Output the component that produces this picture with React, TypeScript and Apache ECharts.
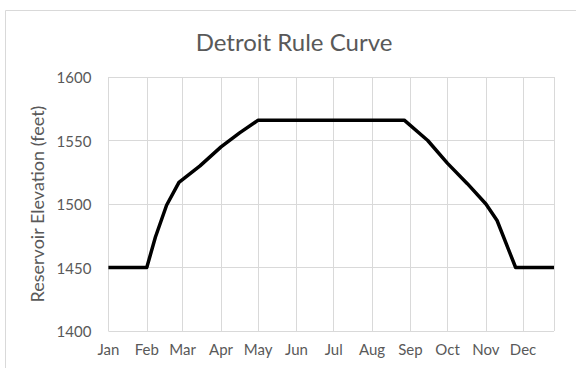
import React, { useEffect, useRef } from "react";
import * as echarts from "echarts";

// Day-of-year (2020, leap year; 0 = Jan 1) and rule-curve elevation in feet
const dayOfYear = [0, 31, 38, 47, 57, 74, 91, 106, 121, 239, 258, 274, 290, 305, 314, 329, 360];
const elevationFeet = [1450, 1450, 1474, 1499, 1517, 1530, 1545, 1556, 1566, 1566, 1550, 1532, 1516, 1500, 1487, 1450, 1450];

// Month labels and the day each month starts on
const monthLabels = ["Jan", "Feb", "Mar", "Apr", "May", "Jun", "Jul", "Aug", "Sep", "Oct", "Nov", "Dec"];
const monthStartDays = [0, 31, 60, 91, 121, 152, 182, 213, 244, 274, 305, 335];
const lastDay = 360;

const yTicks = { min: 1400, max: 1600, step: 50 };

const FONT = "Lato, 'Noto Sans', sans-serif";
const TEXT = "#595959";
const GRID = "#d9d9d9";

export default function App() {
  const ref = useRef<HTMLDivElement>(null);

  useEffect(() => {
    if (!ref.current) return;
    const chart = echarts.init(ref.current, undefined, { renderer: "svg" });
    const points = dayOfYear.map((d, i) => [d, elevationFeet[i]]);

    chart.setOption({
      animation: false,
      backgroundColor: "#ffffff",
      textStyle: { fontFamily: FONT },
      graphic: [
        {
          type: "rect",
          silent: true,
          shape: { x: 5.5, y: 10.5, width: 620, height: 420 },
          style: { fill: "none", stroke: GRID, lineWidth: 1 },
        },
        {
          type: "text",
          x: 294,
          y: 41,
          style: {
            text: "Detroit Rule Curve",
            fontFamily: FONT,
            fontSize: 24,
            fill: TEXT,
            align: "center",
            verticalAlign: "middle",
          },
        },
      ],
      grid: { left: 108.4, right: 22, top: 77, bottom: 37 },
      xAxis: {
        type: "value",
        min: 0,
        max: lastDay,
        axisLine: { show: false },
        axisTick: { show: false, customValues: [...monthStartDays, lastDay] },
        splitLine: { show: true, lineStyle: { color: GRID, width: 1 } },
        axisLabel: {
          customValues: monthStartDays,
          formatter: (v: number) => monthLabels[monthStartDays.indexOf(v)] ?? "",
          color: TEXT,
          fontFamily: FONT,
          fontSize: 15,
          margin: 10,
        },
      },
      yAxis: {
        type: "value",
        min: yTicks.min,
        max: yTicks.max,
        interval: yTicks.step,
        name: "Reservoir Elevation (feet)",
        nameLocation: "middle",
        nameGap: 50,
        nameTextStyle: { color: TEXT, fontFamily: FONT, fontSize: 18 },
        axisLine: { show: false },
        axisTick: { show: false },
        splitLine: { show: true, lineStyle: { color: GRID, width: 1 } },
        axisLabel: {
          color: TEXT,
          fontFamily: FONT,
          fontSize: 15,
          margin: 17,
          formatter: (v: number) => String(v),
        },
      },
      series: [
        {
          type: "line",
          data: points,
          symbol: "none",
          smooth: false,
          lineStyle: { color: "#000000", width: 3.5, join: "round" },
        },
      ],
    });

    return () => chart.dispose();
  }, []);

  return (
    <div
      ref={ref}
      style={{ position: "fixed", left: 0, top: 0, width: 576, height: 368, background: "#fff" }}
    />
  );
}
